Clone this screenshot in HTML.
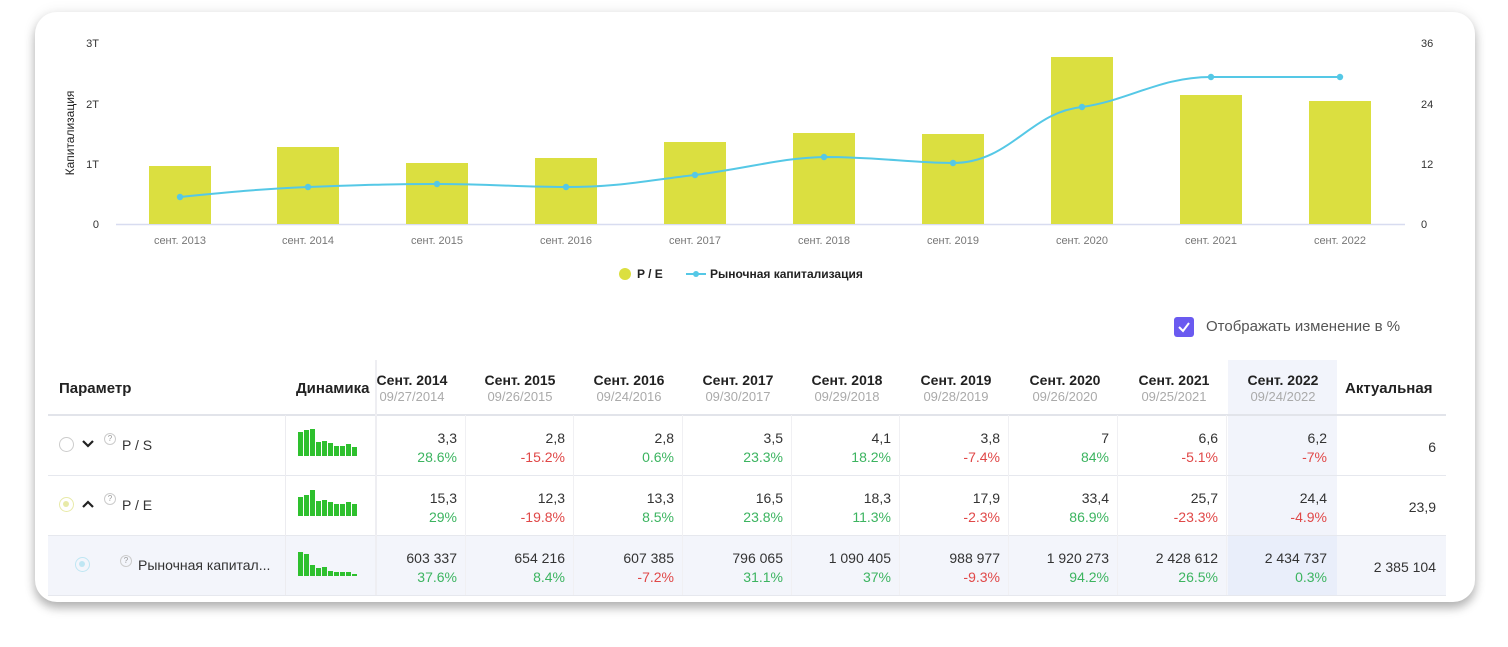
<!DOCTYPE html>
<html><head><meta charset="utf-8"><style>
*{margin:0;padding:0;box-sizing:border-box}
body{width:1508px;height:647px;background:#fff;font-family:"Liberation Sans",sans-serif;position:relative;overflow:hidden}
.card{position:absolute;left:35px;top:12px;width:1440px;height:590px;background:#fff;border-radius:22px;box-shadow:0 6px 10px rgba(0,0,0,.28),0 0 14px rgba(0,0,0,.08)}
.a{position:absolute;white-space:nowrap}
.hd{font-weight:bold;font-size:14px;color:#222}
.sub{font-size:13px;color:#aaa}
.v{font-size:14px;color:#333;text-align:right}
.g{color:#3cb460}.r{color:#e04848}
</style></head><body>
<div class="card"></div>
<svg class="a" style="left:0;top:0" width="1508" height="300">
<g font-size="11" fill="#333" font-family="Liberation Sans">
<text x="99" y="47" text-anchor="end">3T</text>
<text x="99" y="108" text-anchor="end">2T</text>
<text x="99" y="168" text-anchor="end">1T</text>
<text x="99" y="228" text-anchor="end">0</text>
<text x="1421" y="47">36</text><text x="1421" y="108">24</text><text x="1421" y="168">12</text><text x="1421" y="228">0</text>
<text transform="translate(74,133) rotate(-90)" text-anchor="middle" font-size="12" fill="#222">Капитализация</text>
</g>
<line x1="116" y1="224.5" x2="1405" y2="224.5" stroke="#d8dcf0" stroke-width="1.5"/>
<g fill="#dbdf40">
<rect x="149" y="166" width="62" height="58"/><rect x="277" y="147" width="62" height="77"/>
<rect x="406" y="163" width="62" height="61"/><rect x="535" y="158" width="62" height="66"/>
<rect x="664" y="142" width="62" height="82"/><rect x="793" y="133" width="62" height="91"/>
<rect x="922" y="134" width="62" height="90"/><rect x="1051" y="57" width="62" height="167"/>
<rect x="1180" y="95" width="62" height="129"/><rect x="1309" y="101" width="62" height="123"/>
</g>
<path d="M180,197 C230,192 260,189 308,187 C360,185 390,184 437,184 C490,184 520,187 566,187 C620,187 650,180 695,175 C750,168 780,158 824,157 C880,157 910,163 953,163 C1010,163 1030,112 1082,107 C1130,100 1160,77 1211,77 L1340,77" fill="none" stroke="#55c8e6" stroke-width="2"/>
<g fill="#55c8e6">
<circle cx="180" cy="197" r="3.2"/><circle cx="308" cy="187" r="3.2"/><circle cx="437" cy="184" r="3.2"/><circle cx="566" cy="187" r="3.2"/><circle cx="695" cy="175" r="3.2"/><circle cx="824" cy="157" r="3.2"/><circle cx="953" cy="163" r="3.2"/><circle cx="1082" cy="107" r="3.2"/><circle cx="1211" cy="77" r="3.2"/><circle cx="1340" cy="77" r="3.2"/>
</g>
<g font-size="11" fill="#777" text-anchor="middle">
<text x="180" y="244">сент. 2013</text><text x="308" y="244">сент. 2014</text><text x="437" y="244">сент. 2015</text><text x="566" y="244">сент. 2016</text><text x="695" y="244">сент. 2017</text><text x="824" y="244">сент. 2018</text><text x="953" y="244">сент. 2019</text><text x="1082" y="244">сент. 2020</text><text x="1211" y="244">сент. 2021</text><text x="1340" y="244">сент. 2022</text>
</g>
<circle cx="625" cy="274" r="6" fill="#dbdf40"/>
<text x="637" y="278" font-size="12" font-weight="bold" fill="#222">P / E</text>
<line x1="686" y1="274" x2="706" y2="274" stroke="#55c8e6" stroke-width="2"/><circle cx="696" cy="274" r="3" fill="#55c8e6"/>
<text x="710" y="278" font-size="12" font-weight="bold" fill="#222">Рыночная капитализация</text>
</svg>
<div class="a" style="left:1174px;top:317px;width:20px;height:20px;background:#6a5af0;border-radius:3px"></div>
<svg class="a" style="left:1174px;top:317px" width="20" height="20"><path d="M5,10 L9,14 L15,6" fill="none" stroke="#fff" stroke-width="2"/></svg>
<div class="a" style="left:1206px;top:318px;font-size:15px;color:#555">Отображать изменение в %</div>

<!-- table backgrounds -->
<div class="a" style="left:1228px;top:360px;width:109px;height:235px;background:#f2f4fb"></div>
<div class="a" style="left:48px;top:535px;width:1398px;height:60px;background:#f3f5fb"></div>
<div class="a" style="left:1228px;top:535px;width:109px;height:60px;background:#e9eefa"></div>
<div class="a" style="left:48px;top:414px;width:1398px;height:2px;background:#e2e4ea"></div>
<div class="a" style="left:48px;top:475px;width:1398px;height:1px;background:#e6e8ee"></div>
<div class="a" style="left:48px;top:535px;width:1398px;height:1px;background:#e6e8ee"></div>
<div class="a" style="left:48px;top:595px;width:1398px;height:1px;background:#e6e8ee"></div>
<div class="a" style="left:285px;top:415px;width:1px;height:180px;background:#ececf0"></div>
<div class="a" style="left:375px;top:360px;width:2px;height:235px;background:#eeeef2"></div>

<div class="a hd" style="left:59px;top:380px;font-size:15px">Параметр</div>
<div class="a hd" style="left:296px;top:380px;font-size:15px">Динамика</div>
<div class="a hd" style="left:1345px;top:380px;font-size:15px">Актуальная</div>

<div class="a" style="left:59px;top:437px;width:15px;height:15px;border:1.5px solid #ccc;border-radius:50%"></div>
<div class="a" style="left:59px;top:497px;width:15px;height:15px;border:1.5px solid #e8eaa8;border-radius:50%;background:#fff"><div style="margin:3px;width:6px;height:6px;border-radius:50%;background:#e8eaa8"></div></div>
<div class="a" style="left:75px;top:557px;width:15px;height:15px;border:1.5px solid #bfe6f3;border-radius:50%"><div style="margin:3px;width:6px;height:6px;border-radius:50%;background:#bfe6f3"></div></div>
<svg class="a" style="left:81px;top:438px" width="14" height="12"><path d="M2,3 L7,8 L12,3" fill="none" stroke="#222" stroke-width="2.2"/></svg>
<svg class="a" style="left:81px;top:498px" width="14" height="12"><path d="M2,9 L7,4 L12,9" fill="none" stroke="#222" stroke-width="2.2"/></svg>
<div class="a" style="left:104px;top:433px;width:12px;height:12px;border:1px solid #ccc;border-radius:50%;font-size:8px;color:#999;text-align:center;line-height:10px">?</div>
<div class="a" style="left:104px;top:493px;width:12px;height:12px;border:1px solid #ccc;border-radius:50%;font-size:8px;color:#999;text-align:center;line-height:10px">?</div>
<div class="a" style="left:120px;top:555px;width:12px;height:12px;border:1px solid #ccc;border-radius:50%;font-size:8px;color:#999;text-align:center;line-height:10px">?</div>
<div class="a" style="left:122px;top:437px;font-size:14px;color:#333">P / S</div>
<div class="a" style="left:122px;top:497px;font-size:14px;color:#333">P / E</div>
<div class="a" style="left:138px;top:557px;font-size:14px;color:#333">Рыночная капитал...</div>

<svg class="a" style="left:298px;top:428px" width="64" height="160" fill="#2ec02e">
<rect x="0" y="4" width="5" height="24"/><rect x="6" y="2" width="5" height="26"/><rect x="12" y="1" width="5" height="27"/><rect x="18" y="14" width="5" height="14"/><rect x="24" y="13" width="5" height="15"/><rect x="30" y="15" width="5" height="13"/><rect x="36" y="18" width="5" height="10"/><rect x="42" y="18" width="5" height="10"/><rect x="48" y="16" width="5" height="12"/><rect x="54" y="19" width="5" height="9"/>
<rect x="0" y="69" width="5" height="19"/><rect x="6" y="67" width="5" height="21"/><rect x="12" y="62" width="5" height="26"/><rect x="18" y="73" width="5" height="15"/><rect x="24" y="72" width="5" height="16"/><rect x="30" y="74" width="5" height="14"/><rect x="36" y="76" width="5" height="12"/><rect x="42" y="76" width="5" height="12"/><rect x="48" y="74" width="5" height="14"/><rect x="54" y="76" width="5" height="12"/>
<rect x="0" y="124" width="5" height="24"/><rect x="6" y="126" width="5" height="22"/><rect x="12" y="137" width="5" height="11"/><rect x="18" y="140" width="5" height="8"/><rect x="24" y="139" width="5" height="9"/><rect x="30" y="143" width="5" height="5"/><rect x="36" y="144" width="5" height="4"/><rect x="42" y="144" width="5" height="4"/><rect x="48" y="144" width="5" height="4"/><rect x="54" y="146" width="5" height="2"/>
</svg>

<div id="cols"></div>
<script>
const heads=[["Сент. 2014","09/27/2014"],["Сент. 2015","09/26/2015"],["Сент. 2016","09/24/2016"],["Сент. 2017","09/30/2017"],["Сент. 2018","09/29/2018"],["Сент. 2019","09/28/2019"],["Сент. 2020","09/26/2020"],["Сент. 2021","09/25/2021"],["Сент. 2022","09/24/2022"]];
const rows=[
[["3,3","28.6%"],["2,8","-15.2%"],["2,8","0.6%"],["3,5","23.3%"],["4,1","18.2%"],["3,8","-7.4%"],["7","84%"],["6,6","-5.1%"],["6,2","-7%"],"6"],
[["15,3","29%"],["12,3","-19.8%"],["13,3","8.5%"],["16,5","23.8%"],["18,3","11.3%"],["17,9","-2.3%"],["33,4","86.9%"],["25,7","-23.3%"],["24,4","-4.9%"],"23,9"],
[["603 337","37.6%"],["654 216","8.4%"],["607 385","-7.2%"],["796 065","31.1%"],["1 090 405","37%"],["988 977","-9.3%"],["1 920 273","94.2%"],["2 428 612","26.5%"],["2 434 737","0.3%"],"2 385 104"]];
const centers=[412,520,629,738,847,956,1065,1174,1283];
const rights=[457,565,674,783,891,1000,1109,1218,1327];
let h="";
heads.forEach((c,i)=>{h+=`<div class="a hd" style="left:${centers[i]-60}px;width:120px;text-align:center;top:372px">${c[0]}</div><div class="a sub" style="left:${centers[i]-60}px;width:120px;text-align:center;top:389px">${c[1]}</div>`;
if(i>0)h+=`<div class="a" style="left:${rights[i-1]+8}px;top:415px;width:1px;height:180px;background:#f0f0f3"></div>`;});
rows.forEach((r,j)=>{const y=430+j*60;
for(let i=0;i<9;i++){const p=r[i][1];h+=`<div class="a v" style="left:${rights[i]-100}px;width:100px;top:${y}px">${r[i][0]}</div><div class="a v ${p[0]=='-'?'r':'g'}" style="left:${rights[i]-100}px;width:100px;top:${y+19}px">${p}</div>`;}
h+=`<div class="a v" style="left:1336px;width:100px;top:${y+9}px">${r[9]}</div>`;});
document.getElementById("cols").innerHTML=h;
</script>
</body></html>
